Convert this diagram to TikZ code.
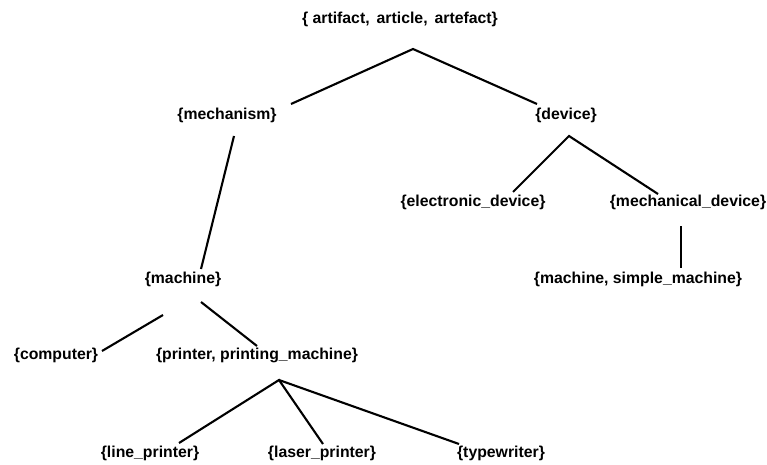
\documentclass[tikz,border=0pt]{standalone}
\usepackage{fontspec}
\setmainfont{Liberation Sans}
\begin{document}
\begin{tikzpicture}[x=1pt,y=-1pt,
  lbl/.style={inner sep=0pt,font=\fontsize{15.8}{18}\selectfont\bfseries},
  edge/.style={line width=2.1pt}]
\useasboundingbox (0,0) rectangle (767,465);
% nodes
\node[lbl] (top) at (400,19) {\{ artifact,\, article,\, artefact\}};
\node[lbl] (mech) at (227,115) {\{mechanism\}};
\node[lbl] (dev) at (566,115) {\{device\}};
\node[lbl] (edev) at (473,202) {\{electronic\_device\}};
\node[lbl] (mdev) at (688,202) {\{mechanical\_device\}};
\node[lbl] (msm) at (638,279) {\{machine, simple\_machine\}};
\node[lbl] (mach) at (183,279) {\{machine\}};
\node[lbl] (comp) at (56,355) {\{computer\}};
\node[lbl] (prin) at (257,355) {\{printer, printing\_machine\}};
\node[lbl] (lp) at (150,453) {\{line\_printer\}};
\node[lbl] (lsp) at (322,453) {\{laser\_printer\}};
\node[lbl] (tw) at (501,453) {\{typewriter\}};
% connector end points
\coordinate (topS) at (413,49);
\coordinate (mechN) at (291,104);
\coordinate (devN) at (537,104);
\coordinate (mechS) at (234,136);
\coordinate (machN) at (201,269);
\coordinate (machSL) at (163,315);
\coordinate (compE) at (102,351);
\coordinate (machSR) at (201,302);
\coordinate (prinN) at (257,346);
\coordinate (devS) at (569,136);
\coordinate (edevN) at (513,192);
\coordinate (mdevN) at (658,194);
\coordinate (mdevS) at (681,226);
\coordinate (msmN) at (681,268);
\coordinate (prinS) at (279,380);
\coordinate (lpN) at (179,443);
\coordinate (lspN) at (323,444);
\coordinate (twN) at (459,444);
% connectors
\draw[edge] (mechN) -- (topS) -- (devN);
\draw[edge] (mechS) -- (machN);
\draw[edge] (machSL) -- (compE);
\draw[edge] (machSR) -- (prinN);
\draw[edge] (edevN) -- (devS) -- (mdevN);
\draw[edge] (mdevS) -- (msmN);
\draw[edge] (lpN) -- (prinS) -- (lspN);
\draw[edge] (prinS) -- (twN);
\end{tikzpicture}
\end{document}
